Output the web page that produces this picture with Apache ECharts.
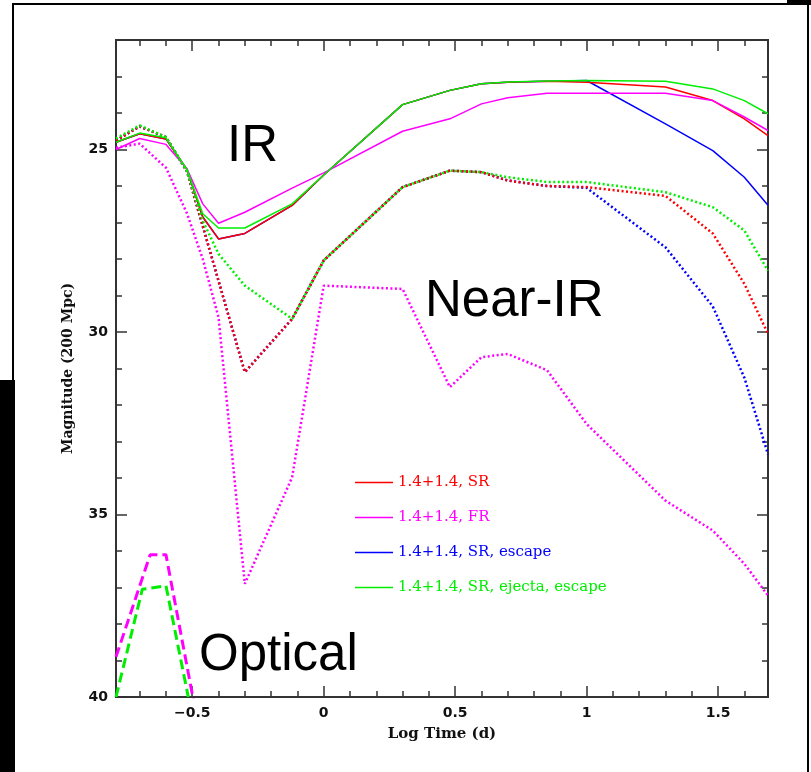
<!DOCTYPE html>
<html>
<head>
<meta charset="utf-8" />
<script src="https://cdn.jsdelivr.net/npm/echarts@6/dist/echarts.min.js"></script>
<style>
  html, body { margin: 0; padding: 0; background: #fff; }
  #main { width: 811px; height: 772px; }
</style>
</head>
<body>
<div id="main"></div>
<script>
// log10 of time in days at which the models are sampled
var logT = [-0.79, -0.7, -0.6, -0.52, -0.46, -0.4, -0.3, -0.12, 0, 0.3, 0.48, 0.6, 0.7, 0.85, 1, 1.3, 1.48, 1.6, 1.69];

// IR (solid)
var srIR  = [24.8, 24.57, 24.71, 25.55, 26.85, 27.45, 27.3, 26.53, 25.7, 23.77, 23.38, 23.2, 23.16, 23.13, 23.16, 23.29, 23.66, 24.16, 24.62];
var frIR  = [25.0, 24.7, 24.86, 25.53, 26.49, 27.02, 26.72, 26.06, 25.64, 24.5, 24.16, 23.75, 23.58, 23.46, 23.46, 23.46, 23.66, 24.11, 24.48];
var escIR = [24.8, 24.57, 24.71, 25.55, 26.85, 27.45, 27.3, 26.53, 25.7, 23.77, 23.38, 23.2, 23.16, 23.13, 23.11, 24.3, 25.03, 25.76, 26.53];
var ejIR  = [24.8, 24.55, 24.68, 25.55, 26.76, 27.15, 27.15, 26.49, 25.7, 23.77, 23.38, 23.2, 23.15, 23.12, 23.11, 23.13, 23.34, 23.66, 24.02];

// Near-IR (dotted)
var srNIR  = [24.75, 24.37, 24.66, 25.6, 27.1, 28.6, 31.1, 29.64, 28.04, 26.03, 25.58, 25.62, 25.85, 26.0, 26.03, 26.27, 27.3, 28.68, 30.05];
var frNIR  = [24.95, 24.84, 25.5, 26.75, 28.0, 29.6, 36.9, 33.98, 28.73, 28.82, 31.51, 30.69, 30.6, 31.05, 32.52, 34.62, 35.44, 36.35, 37.22];
var escNIR = [24.75, 24.37, 24.66, 25.6, 27.1, 28.6, 31.1, 29.64, 28.04, 26.03, 25.58, 25.62, 25.85, 26.0, 26.05, 27.68, 29.3, 31.25, 33.35];
var ejNIR  = [24.7, 24.34, 24.66, 25.6, 26.95, 27.86, 28.73, 29.64, 28.04, 26.03, 25.58, 25.62, 25.76, 25.89, 25.89, 26.17, 26.58, 27.22, 28.32];

// Optical (dashed), own sampling
var frOptT  = [-0.79, -0.66, -0.6, -0.49];
var frOpt   = [38.9, 36.1, 36.1, 40.3];
var ejOptT  = [-0.79, -0.69, -0.6, -0.515];
var ejOpt   = [40.0, 37.05, 36.95, 40.0];

var names = ['1.4+1.4, SR', '1.4+1.4, FR', '1.4+1.4, SR, escape', '1.4+1.4, SR, ejecta, escape'];
var colors = ['#ff0000', '#ff00ff', '#0000ff', '#00ee00'];

// tick positions
var xMajor = [-0.5, 0, 0.5, 1, 1.5];
var xMinor = [-0.7, -0.6, -0.4, -0.3, -0.2, -0.1, 0.1, 0.2, 0.3, 0.4, 0.6, 0.7, 0.8, 0.9, 1.1, 1.2, 1.3, 1.4, 1.6];
var yMajor = [25, 30, 35, 40];
var yMinor = [23, 24, 26, 27, 28, 29, 31, 32, 33, 34, 36, 37, 38, 39];

function pairs(xs, ys) {
    return xs.map(function (x, i) { return [x, ys[i]]; });
}

function line(name, xs, ys, color, kind) {
    var ls = { color: color, width: 1.5 };
    if (kind === 'dot') { ls.width = 2.5; ls.type = [2, 2.5]; }
    if (kind === 'dash') { ls.width = 3; ls.type = [10, 5]; }
    return {
        name: name,
        type: 'line',
        data: pairs(xs, ys),
        symbol: 'none',
        clip: true,
        color: color,
        lineStyle: ls,
        emphasis: { disabled: true }
    };
}

var axisColor = '#333';

function xAx(pos, ticks, len, main) {
    return {
        type: 'value', position: pos, min: -0.79, max: 1.69,
        axisLine: { show: true, onZero: false, lineStyle: { color: axisColor, width: 2 } },
        axisTick: { show: true, inside: true, length: len, customValues: ticks, lineStyle: { color: axisColor, width: 1.5 } },
        axisLabel: main ? {
            customValues: ticks, margin: 9, color: '#111', fontSize: 14, fontWeight: 'bold', fontFamily: 'DejaVu Sans',
            formatter: function (v) { return v < 0 ? '\u2212' + (-v) : String(v); }
        } : { show: false },
        splitLine: { show: false },
        name: main ? 'Log Time (d)' : '',
        nameLocation: 'middle', nameGap: 30,
        nameTextStyle: { color: '#111', fontSize: 15, fontFamily: 'DejaVu Serif', fontWeight: 'bold' }
    };
}

function yAx(pos, ticks, len, main) {
    return {
        type: 'value', position: pos, min: 22, max: 40, inverse: true,
        axisLine: { show: true, onZero: false, lineStyle: { color: axisColor, width: 2 } },
        axisTick: { show: true, inside: true, length: len, customValues: ticks, lineStyle: { color: axisColor, width: 1.5 } },
        axisLabel: main ? {
            customValues: ticks, margin: 8, color: '#111', fontSize: 14, fontWeight: 'bold', fontFamily: 'DejaVu Sans'
        } : { show: false },
        splitLine: { show: false },
        name: main ? 'Magnitude (200 Mpc)' : '',
        nameLocation: 'middle', nameRotate: 90, nameGap: 41,
        nameTextStyle: { color: '#111', fontSize: 14, fontFamily: 'DejaVu Serif', fontWeight: 'bold' }
    };
}

var chart = echarts.init(document.getElementById('main'), null, { renderer: 'canvas' });

// blue drawn first so it stays under the others where they coincide
var series = [
    line(names[2], logT, escIR, colors[2]),
    line('SR escape NIR', logT, escNIR, colors[2], 'dot'),
    line(names[0], logT, srIR, colors[0]),
    line('SR NIR', logT, srNIR, colors[0], 'dot'),
    line(names[1], logT, frIR, colors[1]),
    line('FR NIR', logT, frNIR, colors[1], 'dot'),
    line(names[3], logT, ejIR, colors[3]),
    line('SR ejecta escape NIR', logT, ejNIR, colors[3], 'dot'),
    line('FR optical', frOptT, frOpt, colors[1], 'dash'),
    line('SR ejecta escape optical', ejOptT, ejOpt, colors[3], 'dash')
];

var bigFont = 'Liberation Sans, Arial, sans-serif';

chart.setOption({
    animation: false,
    backgroundColor: '#fff',
    grid: { left: 116, right: 43, top: 40, bottom: 75 },
    xAxis: [
        xAx('bottom', xMajor, 11, true),
        xAx('bottom', xMinor, 6, false),
        xAx('top', xMajor, 11, false),
        xAx('top', xMinor, 6, false)
    ],
    yAxis: [
        yAx('left', yMajor, 11, true),
        yAx('left', yMinor, 6, false),
        yAx('right', yMajor, 11, false),
        yAx('right', yMinor, 6, false)
    ],
    legend: {
        orient: 'vertical',
        left: 350,
        top: 470,
        icon: 'rect',
        itemWidth: 38,
        itemHeight: 1.5,
        itemGap: 20,
        selectedMode: false,
        textStyle: { fontFamily: 'DejaVu Serif', fontSize: 15 },
        data: names.map(function (n, i) {
            return { name: n, textStyle: { color: colors[i] } };
        })
    },
    graphic: [
        // slide frame around the figure
        { type: 'rect', shape: { x: 12, y: 3, width: 799, height: 2 }, style: { fill: '#000' } },
        { type: 'rect', shape: { x: 12, y: 3, width: 2, height: 378 }, style: { fill: '#000' } },
        { type: 'rect', shape: { x: 0, y: 380, width: 15, height: 392 }, style: { fill: '#000' } },
        { type: 'rect', shape: { x: 807, y: 3, width: 2, height: 769 }, style: { fill: '#000' } },
        { type: 'rect', shape: { x: 787, y: 0, width: 24, height: 4 }, style: { fill: '#000' } },
        // band labels
        { type: 'text', left: 227, top: 121, style: { text: 'IR', font: '51px ' + bigFont, fill: '#000' }, z: 100 },
        { type: 'text', left: 425, top: 276, style: { text: 'Near-IR', font: '51px ' + bigFont, fill: '#000' }, z: 100 },
        { type: 'text', left: 199, top: 630, style: { text: 'Optical', font: '51px ' + bigFont, fill: '#000' }, z: 100 }
    ],
    series: series
});
</script>
</body>
</html>
